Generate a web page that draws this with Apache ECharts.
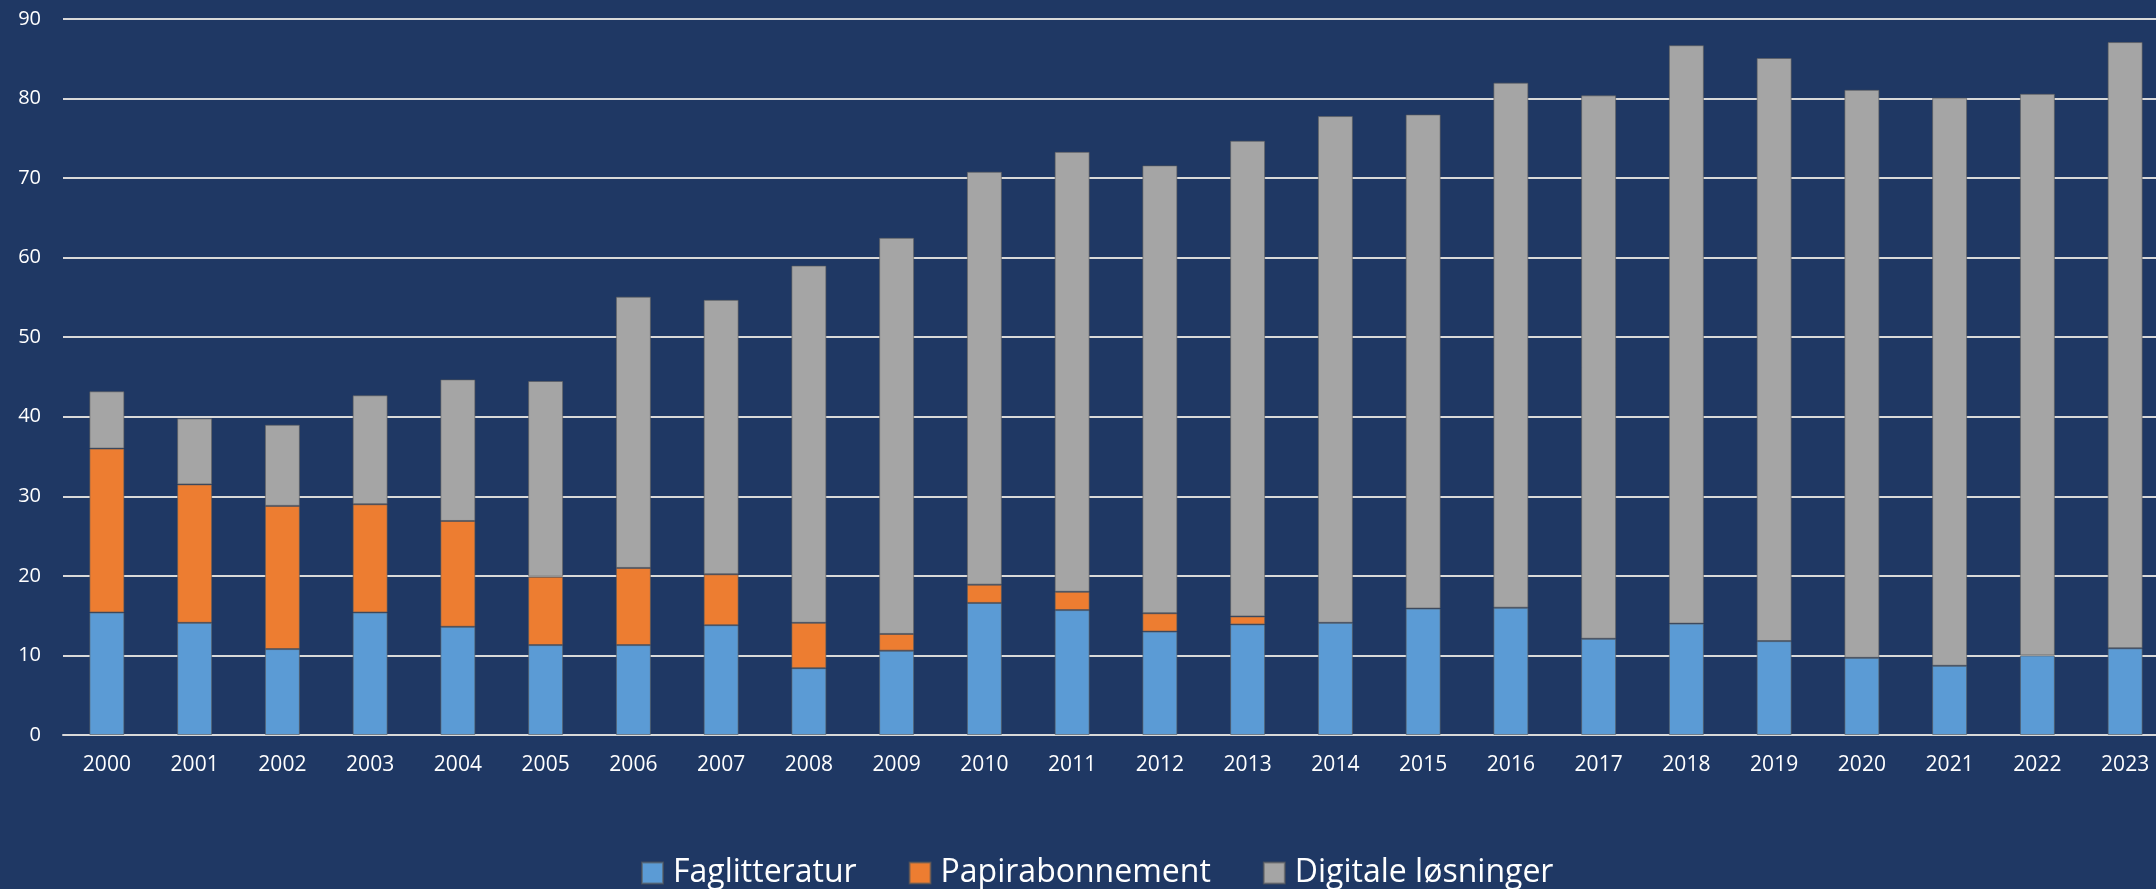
<!DOCTYPE html>
<html>
<head>
<meta charset="utf-8">
<script src="https://cdn.jsdelivr.net/npm/echarts@6/dist/echarts.min.js"></script>
<style>
  html, body { margin: 0; padding: 0; background: #1F3864; overflow: hidden; }
  #chart { width: 2169px; height: 889px; }
</style>
</head>
<body>
<div id="chart"></div>
<script>
const years = ["2000", "2001", "2002", "2003", "2004", "2005", "2006", "2007", "2008", "2009", "2010", "2011",
  "2012", "2013", "2014", "2015", "2016", "2017", "2018", "2019", "2020", "2021", "2022", "2023"];
const faglitteratur = [15.4, 14.1, 10.8, 15.4, 13.6, 11.3, 11.3, 13.8, 8.4, 10.6, 16.6, 15.7,
  13.0, 13.9, 14.1, 15.9, 16.0, 12.1, 14.0, 11.8, 9.7, 8.7, 10.0, 10.9];
const papirabonnement = [20.6, 17.4, 18.0, 13.6, 13.3, 8.6, 9.7, 6.4, 5.7, 2.1, 2.3, 2.3,
  2.3, 1.0, null, null, null, null, null, null, null, null, null, null];
const digitale = [7.2, 8.3, 10.2, 13.7, 17.8, 24.6, 34.1, 34.5, 44.9, 49.8, 51.9, 55.3,
  56.3, 59.8, 63.7, 62.1, 66.0, 68.3, 72.7, 73.3, 71.4, 71.4, 70.6, 76.2];

const font = "'Open Sans', sans-serif";
const chart = echarts.init(document.getElementById("chart"));

function bar(name, data, color) {
  return {
    name: name,
    type: "bar",
    stack: "total",
    barWidth: 35,
    data: data,
    itemStyle: { color: color, borderColor: "rgba(90,90,90,0.6)", borderWidth: 1 }
  };
}

chart.setOption({
  backgroundColor: "#1F3864",
  animation: false,
  textStyle: { fontFamily: font },
  grid: { left: 63, right: 0, top: 19, bottom: 154 },
  legend: {
    left: 636,
    top: 852,
    itemWidth: 21,
    itemHeight: 21,
    itemGap: 52,
    icon: "rect",
    textStyle: { color: "#ffffff", fontSize: 32, fontFamily: font, padding: [0, 0, 0, 5] },
    data: ["Faglitteratur", "Papirabonnement", "Digitale løsninger"]
  },
  xAxis: {
    type: "category",
    data: years,
    axisTick: { show: false },
    axisLine: { lineStyle: { color: "#D9D9D9", width: 2 } },
    axisLabel: { color: "#ffffff", fontSize: 21, margin: 20, fontFamily: font }
  },
  yAxis: {
    type: "value",
    min: 0,
    max: 90,
    interval: 10,
    axisLine: { show: false },
    axisTick: { show: false },
    axisLabel: { color: "#ffffff", fontSize: 20, margin: 22, fontFamily: font },
    splitLine: { lineStyle: { color: "#D9D9D9", width: 2 } }
  },
  series: [
    bar("Faglitteratur", faglitteratur, "#5B9BD5"),
    bar("Papirabonnement", papirabonnement, "#ED7D31"),
    bar("Digitale løsninger", digitale, "#A5A5A5")
  ]
});
</script>
</body>
</html>
